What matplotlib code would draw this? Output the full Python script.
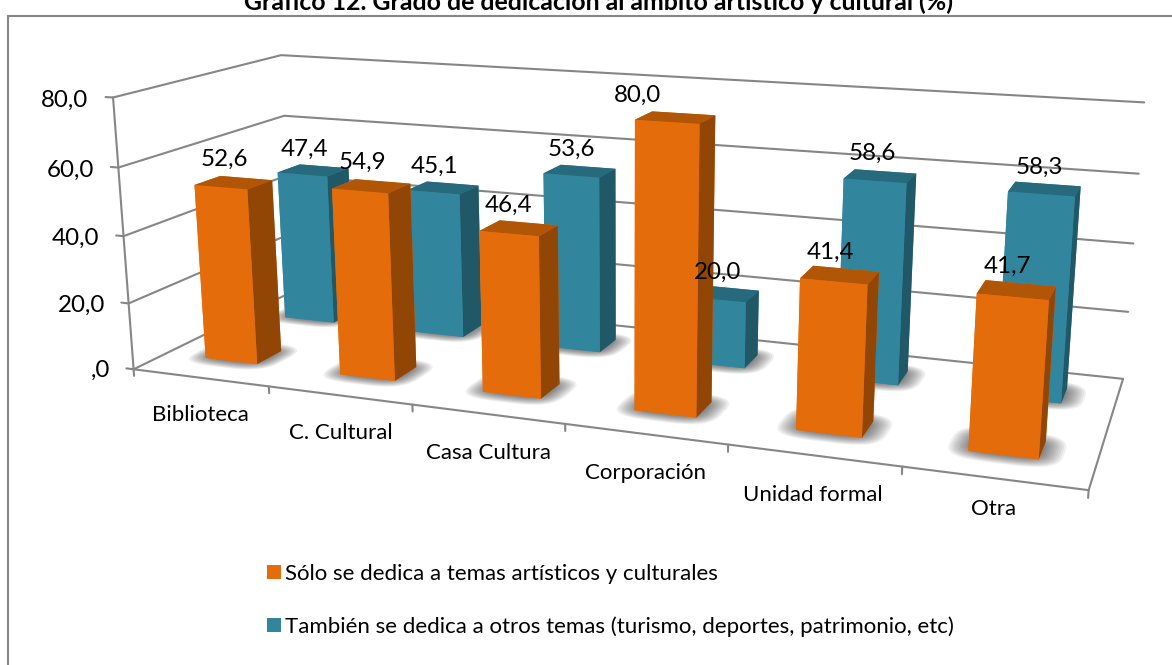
import numpy as np
import matplotlib
matplotlib.use("Agg")
import matplotlib.pyplot as plt
from matplotlib.patches import Patch, Rectangle
from mpl_toolkits.mplot3d.art3d import Poly3DCollection

plt.rcParams['font.family'] = ['Lato', 'DejaVu Sans']

TITLE = "Gráfico 12. Grado de dedicación al ámbito artístico y cultural (%)"
categories = ["Biblioteca", "C. Cultural", "Casa Cultura", "Corporación", "Unidad formal", "Otra"]
series_names = ["Sólo se dedica a temas artísticos y culturales",
                "También se dedica a otros temas (turismo, deportes, patrimonio, etc)"]
solo_values = [52.6, 54.9, 46.4, 80.0, 41.4, 41.7]
tambien_values = [47.4, 45.1, 53.6, 20.0, 58.6, 58.3]
value_ticks = [0, 20, 40, 60, 80]
value_tick_labels = [",0", "20,0", "40,0", "60,0", "80,0"]

W, H = 1172, 665
GRID = "#868686"
ORANGE = ("#E46C0A", "#B05606", "#914606")   # front, top, side
BLUE = ("#31859C", "#276A7D", "#205867")

# Where known points of the 3-D box (category, depth, value) appear in the image.
CAL_WORLD = np.array([
    (0, 0, 0), (0, 0, 20), (0, 0, 40), (0, 0, 60), (0, 0, 80),
    (6, 1, 0), (6, 1, 20), (6, 1, 40), (6, 1, 60), (6, 1, 80),
    (0, 1, 0), (0, 1, 60), (0, 1, 80), (6, 0, 0),
    (1, 0, 0), (2, 0, 0), (3, 0, 0), (5, 0, 0)], float)
CAL_PIXEL = np.array([
    (134, 369), (128.3, 302.7), (125, 235.7), (118.3, 167.3), (112.7, 97.7),
    (1123.3, 377.7), (1128.3, 311.7), (1133.3, 243.3), (1139, 174), (1144.3, 102.7),
    (293, 292), (284, 116), (280.7, 55), (1088.3, 489.3),
    (268.7, 386), (412, 405), (565, 425), (902, 468)], float)


def fit_camera(world, target):
    """Direct linear transform: 3x4 camera matrix from point pairs."""
    rows = []
    for (x, y, z), (u, v) in zip(world, target):
        rows.append([x, y, z, 1, 0, 0, 0, 0, -u*x, -u*y, -u*z, -u])
        rows.append([0, 0, 0, 0, x, y, z, 1, -v*x, -v*y, -v*z, -v])
    P = np.linalg.svd(np.array(rows))[2][-1].reshape(3, 4)
    if P[2] @ np.array([3, 0.5, 0, 1]) < 0:
        P = -P
    return P


fig = plt.figure(figsize=(W/100, H/100), dpi=100, facecolor="white")
ax = fig.add_axes([0, 0, 1, 1], projection="3d", computed_zorder=False)
ax.set_axis_off()
ax.autoscale(False)
ax.set_xlim(0, 6)
ax.set_ylim(0, 1)
ax.set_zlim(0, 80)
ax.apply_aspect = lambda position=None: None


def camera_matrix():
    disp = np.column_stack([CAL_PIXEL[:, 0], H - CAL_PIXEL[:, 1]])
    target = ax.transData.inverted().transform(disp)
    P = fit_camera(CAL_WORLD, target)
    return np.vstack([P[0], P[1], [0, 0, 0, -1], P[2]])


ax.get_proj = camera_matrix
PIXEL_CAMERA = fit_camera(CAL_WORLD, CAL_PIXEL)


def label(x, y, z, s, **kw):
    """Place flat text at the picture position of a point of the 3-D box."""
    u, v, w = PIXEL_CAMERA @ np.array([x, y, z, 1.0])
    return fig.text(u/w/W, 1 - v/w/H, s, va="center", color="black", **kw)


# Walls, floor and ticks
line = dict(color=GRID, lw=1.5, zorder=1, solid_capstyle="round")
for v in value_ticks:
    ax.plot([0, 0, 6], [0, 1, 1], [v, v, v], **line)
    ax.plot([-0.055, 0], [0, 0], [v, v], **line)
ax.plot([0, 0], [0, 0], [0, 80], **line)
ax.plot([0, 6, 6], [0, 0, 1], [0, 0, 0], **line)
for i in range(len(categories) + 1):
    ax.plot([i, i], [0, 0], [0, -2], **line)

TEXT_SIZE = 17.4
AXIS_TEXT = 16.0
for v, lab in zip(value_ticks, value_tick_labels):
    label(-0.185, 0, v - 1.3, lab, ha="right", fontsize=TEXT_SIZE)
CATEGORY_DROP = [-11.5, -11.2, -11.1, -11, -10.9, -8.0]
CATEGORY_SHIFT = [-0.02, 0, 0, 0, 0, 0.01]
for i, (lab, drop, sh) in enumerate(zip(categories, CATEGORY_DROP, CATEGORY_SHIFT)):
    label(i + 0.5 + sh, 0, drop, lab, ha="center", fontsize=AXIS_TEXT)

BAR_X = 0.39
BAR_Y = 0.15
BAR_XC = 0.495
ORANGE_YC = 0.26
BLUE_YC = 0.765


def shadow(xc, yc):
    t = np.linspace(0, 2*np.pi, 60)
    layers = 10
    for k in range(layers):
        e = (k + 1)/layers
        a = BAR_X/2 + 0.125*e
        b = BAR_Y/2 + 0.07*e
        xs = xc + a*np.sign(np.cos(t))*np.abs(np.cos(t))**0.6
        ys = yc + b*np.sign(np.sin(t))*np.abs(np.sin(t))**0.6
        ax.add_collection3d(Poly3DCollection([list(zip(xs, ys, np.zeros_like(t)))], facecolor="black",
                                             edgecolor="none", alpha=0.06, zorder=2))


def bars(values, yc, colors, zorder):
    front, top, side = colors
    # faces in bar3d order: bottom, top, front, back, left, right
    faces = [front, top, front, front, front, side]
    for i, v in enumerate(values):
        xc = i + BAR_XC
        shadow(xc, yc)
        ax.bar3d(xc - BAR_X/2, yc - BAR_Y/2, 0, BAR_X, BAR_Y, v, color=faces, shade=False, zorder=zorder)


bars(tambien_values, BLUE_YC, BLUE, 3)
bars(solo_values, ORANGE_YC, ORANGE, 5)

LABEL_NUDGE_X = {"solo": [0, 0, -0.01, -0.18, -0.01, -0.01], "tambien": [0, 0, 0, 0.01, 0, 0.01]}
LABEL_LIFT = {"solo": [7, 6.8, 6.5, 5.5, 6, 6], "tambien": [7, 6.8, 6.8, 6.8, 6.5, 6.2]}
for values, yc, key in ((solo_values, 0.25, "solo"), (tambien_values, 0.75, "tambien")):
    for i, v in enumerate(values):
        label(i + 0.45 + LABEL_NUDGE_X[key][i], yc, v + LABEL_LIFT[key][i], f"{v:.1f}".replace(".", ","),
              ha="center", fontsize=TEXT_SIZE)

# Chart frame (only its top and left edges fall inside the picture), title, legend
fig.add_artist(Rectangle((8/W, -5/H), (W + 5)/W, (H - 16 + 5)/H, transform=fig.transFigure,
                         facecolor="none", edgecolor=GRID, lw=1.5))
fig.text(598/W, 1 + 9.3/H, TITLE, ha="center", va="top", fontsize=17.9, fontweight="bold", color="black")
handles = [Patch(facecolor=ORANGE[0]), Patch(facecolor=BLUE[0])]
fig.legend(handles, series_names, loc="upper left", bbox_to_anchor=(267/W, 1 - 564/H), frameon=False,
           fontsize=AXIS_TEXT, handlelength=0.63, handleheight=0.63, handletextpad=0.2, labelspacing=1.46,
           borderpad=0, borderaxespad=0)

fig.savefig("out.png", dpi=100)
